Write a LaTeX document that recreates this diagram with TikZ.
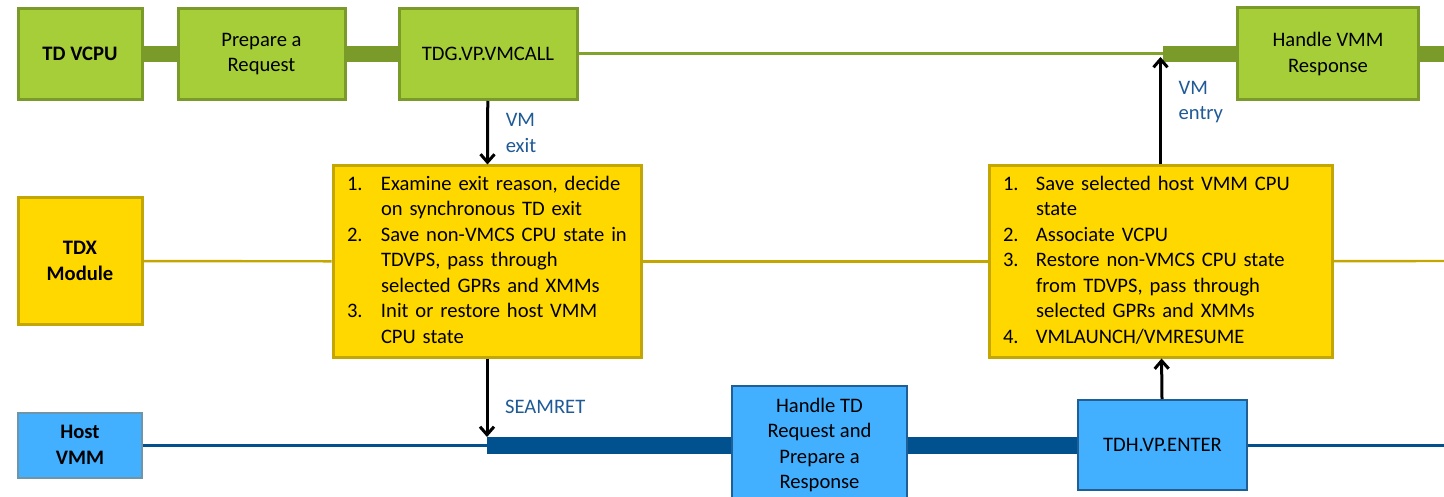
\documentclass[tikz,border=0pt]{standalone}
\usepackage{fontspec}
\setmainfont{Carlito}
\usetikzlibrary{positioning,arrows.meta}
\definecolor{tdgreen}{RGB}{166,206,57}
\definecolor{tdgreenline}{RGB}{122,155,42}
\definecolor{tdyellow}{RGB}{255,216,0}
\definecolor{tdyellowline}{RGB}{196,166,0}
\definecolor{tdblue}{RGB}{66,176,255}
\definecolor{tdblueline}{RGB}{31,95,150}
\definecolor{hostline}{RGB}{110,150,168}
\definecolor{vmmline}{RGB}{0,81,142}
\definecolor{lblblue}{RGB}{31,90,150}

\begin{document}
\begin{tikzpicture}[x=.5pt,y=-.5pt,
  font=\fontsize{10.3}{12.75}\selectfont,
  box/.style={draw,line width=1.5pt,inner sep=2pt,align=center},
  gbox/.style={box,fill=tdgreen,draw=tdgreenline},
  ybox/.style={box,fill=tdyellow,draw=tdyellowline,align=left,inner xsep=7pt,minimum height=95.5pt},
  bbox/.style={box,line width=1pt,fill=tdblue,draw=tdblueline},
  gthick/.style={tdgreenline,line width=8pt},
  gthin/.style={tdgreenline!85!tdgreen,line width=1.5pt},
  ythin/.style={tdyellowline,line width=1.2pt},
  bthick/.style={vmmline,line width=8.5pt},
  bthin/.style={vmmline,line width=1.5pt},
  arr/.style={line width=1.5pt,-{Straight Barb[length=4pt,width=7pt]}},
  lbl/.style={text=lblblue,align=left}]
  \useasboundingbox (0,0) rectangle (1444,497);
  \node[gbox,minimum width=62pt,minimum height=45.5pt] (vcpu) at (80,54) {\textbf{TD VCPU}};
  \node[gbox,minimum width=83.5pt,minimum height=45.5pt] (prep) at (261.5,54) {Prepare a\\Request};
  \node[gbox,minimum width=89pt,minimum height=45.5pt] (tdg) at (488,54) {TDG.VP.VMCALL};
  \node[gbox,minimum width=90.5pt,minimum height=46pt] (hvr) at (1328,54) {Handle VMM\\Response};
  \node[box,fill=tdyellow,draw=tdyellowline,minimum width=62pt,minimum height=63pt] (tdx) at (80,261) {\textbf{TDX}\\\textbf{Module}};
  \node[ybox,text width=140pt] (ex) at (487,261.5) {%
    \begin{tabular}{@{}p{17pt}@{}l@{}}
      1. & Examine exit reason, decide\\
         & on synchronous TD exit\\
      2. & Save non-VMCS CPU state in\\
         & TDVPS, pass through\\
         & selected GPRs and XMMs\\
      3. & Init or restore host VMM\\
         & CPU state
    \end{tabular}};
  \node[ybox,text width=157.5pt] (en) at (1160.5,261.5) {%
    \begin{tabular}{@{}p{16.5pt}@{}l@{}}
      1. & Save selected host VMM CPU\\
         & state\\
      2. & Associate VCPU\\
      3. & Restore non-VMCS CPU state\\
         & from TDVPS, pass through\\
         & selected GPRs and XMMs\\
      4. & VMLAUNCH/VMRESUME
    \end{tabular}};
  \node[bbox,draw=hostline,minimum width=62pt,minimum height=32.5pt] (host) at (80,445) {\textbf{Host}\\\textbf{VMM}};
  \node[bbox,minimum width=87.5pt,minimum height=59pt] (htd) at (819.5,445) {Handle TD\\Request and\\Prepare a\\Response};
  \node[bbox,minimum width=84.5pt,minimum height=45pt] (tdh) at (1162.5,445) {TDH.VP.ENTER};
  \coordinate (gjoin) at (1163,54);
  \coordinate (gend) at (1444,54);
  \coordinate (yend) at (1444,261);
  \coordinate (seam) at (487,445);
  \coordinate (seamtop) at (487,437);
  \coordinate (bend) at (1444,445);
  \coordinate (entrytop) at (1160.5,57);
  \draw[gthick] (vcpu) -- (prep);
  \draw[gthick] (prep) -- (tdg);
  \draw[gthin] (tdg) -- (gjoin);
  \draw[gthick] (gjoin) -- (hvr);
  \draw[gthick] (hvr) -- (gend);
  \draw[ythin] (tdx) -- (ex);
  \draw[ythin] (ex) -- (en);
  \draw[ythin] (en) -- (yend);
  \draw[bthin] (host) -- (seam);
  \draw[bthick] (seam) -- (htd);
  \draw[bthick] (htd) -- (tdh);
  \draw[bthin] (tdh) -- (bend);
  \draw[arr] (tdg) -- node[lbl,right=5pt] {VM\\exit} (ex);
  \draw[arr] (ex) -- node[lbl,right=5pt,pos=.62] {SEAMRET} (seamtop);
  \draw[arr] (tdh) -- (en);
  \draw[arr] (en) -- node[lbl,right=5pt,pos=.58] {VM\\entry} (entrytop);
\end{tikzpicture}
\end{document}
